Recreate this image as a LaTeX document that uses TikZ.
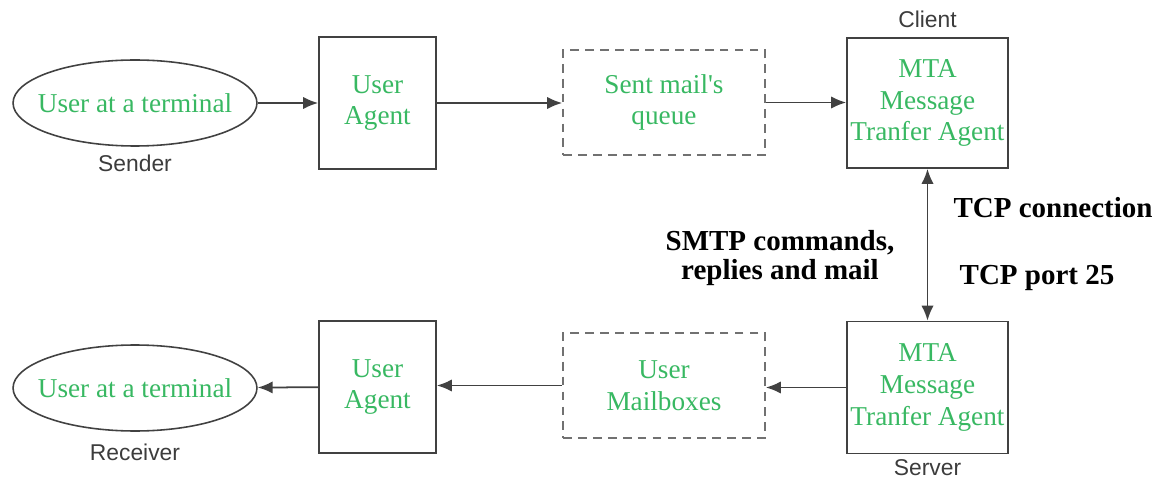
\documentclass[tikz,border=0pt]{standalone}
\usepackage{fontspec}
\setmainfont{Liberation Serif}
\newfontfamily\sidefont{Liberation Sans}
\usetikzlibrary{arrows.meta,positioning,shapes.geometric}
\definecolor{mailGreen}{RGB}{56,184,98}
\definecolor{lineGray}{RGB}{65,65,65}
\definecolor{tagGray}{RGB}{60,60,60}
\tikzset{
  agentbox/.style={draw=lineGray,line width=1pt,align=center,inner sep=1pt,
    text=mailGreen,font=\fontsize{15.5}{18}\selectfont},
  queuebox/.style={agentbox,draw=lineGray!75,dash pattern=on 5pt off 3.5pt},
  termnode/.style={ellipse,draw=lineGray,line width=0.9pt,inner xsep=-7pt,inner ysep=0pt,
    minimum width=4.88cm,minimum height=1.72cm,text=mailGreen,font=\fontsize{15.5}{18}\selectfont},
  roletag/.style={font=\sidefont\fontsize{13}{15}\selectfont,text=tagGray,inner sep=1pt},
  linknote/.style={font=\bfseries\fontsize{16.5}{17}\selectfont,align=center},
  flow/.style={-{Latex[length=8.5pt,width=7pt]},line width=1pt,draw=lineGray}
}

\begin{document}
\begin{tikzpicture}[x=0.02cm,y=-0.02cm]
\useasboundingbox (0,0) rectangle (1168,479);
% sending side
\node[termnode] (sterm) at (135,103) {User at a terminal};
\node[agentbox,minimum width=2.34cm,minimum height=2.64cm] (sua) at (377.5,103) {User\\Agent};
\node[queuebox,minimum width=4.04cm,minimum height=2.1cm] (queue) at (664,102.5) {Sent mail\textquotesingle s\\queue};
\node[agentbox,minimum width=3.22cm,minimum height=2.6cm] (cmta) at (927.5,103) {MTA\\Message\\Tranfer Agent};
\node[roletag,below=3.5pt of sterm] (sender) {Sender};
\node[roletag,above=4pt of cmta] (client) {Client};
% receiving side
\node[termnode] (rterm) at (135,388) {User at a terminal};
\node[agentbox,minimum width=2.34cm,minimum height=2.64cm] (rua) at (377.5,387) {User\\Agent};
\node[queuebox,minimum width=4.04cm,minimum height=2.1cm] (mbox) at (664,385.5) {User\\Mailboxes};
\node[agentbox,minimum width=3.22cm,minimum height=2.64cm] (smta) at (927.5,387.5) {MTA\\Message\\Tranfer Agent};
\node[roletag,below=5.5pt of rterm] (receiver) {Receiver};
\node[roletag,below=2pt of smta] (server) {Server};
% connection labels
\node[linknote] (tcp) at (1053,208) {TCP connection};
\node[linknote] (port) at (1037,278) {TCP port 25};
\node[linknote] (smtp) at (780,258) {SMTP commands,\\replies and mail};
% arrows
\draw[flow] (sterm) -- (sua);
\draw[flow] (sua.east) -- (sua.east -| queue.west);
\draw[flow] (queue.east) -- (queue.east -| cmta.west);
\draw[flow,{Latex[length=8.5pt,width=7pt]}-{Latex[length=8.5pt,width=7pt]}] (cmta) -- (smta);
\draw[flow] (smta.west) -- (smta.west -| mbox.east);
\draw[flow] (mbox.west) -- (mbox.west -| rua.east);
\draw[flow] (rua) -- (rterm);
\end{tikzpicture}
\end{document}
